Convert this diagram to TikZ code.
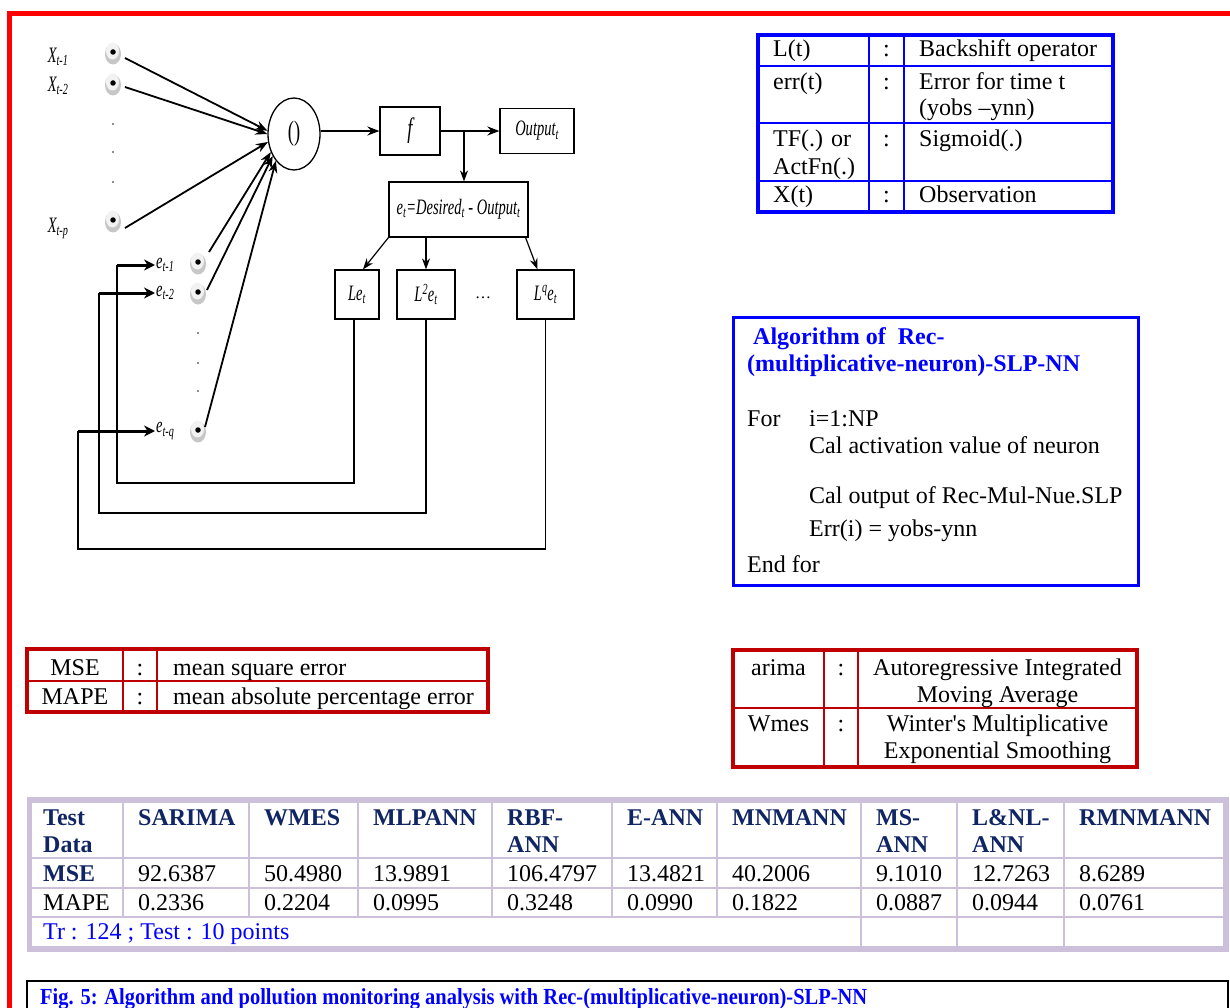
\documentclass[tikz,border=0pt]{standalone}
\usepackage{fontspec}
\setmainfont{Liberation Serif}
\usetikzlibrary{shapes.geometric,arrows.meta}
\definecolor{bordred}{RGB}{255,0,0}
\definecolor{tblblue}{RGB}{0,0,255}
\definecolor{dkred}{RGB}{192,0,0}
\definecolor{lav}{RGB}{204,192,218}
\definecolor{navy}{RGB}{16,37,99}
\definecolor{txtblue}{RGB}{0,0,255}
\newcommand\tfont{\fontsize{24}{27}\selectfont}
\newcommand\dfont{\fontsize{22}{24}\selectfont\itshape}
\newcommand\cnd[1]{\scalebox{0.66}[1]{#1}}
\newcommand\bead[3]{%
  \fill[black!22] (#2,#3+2) ellipse (8 and 10.5);
  \fill[black!5] (#2-0.5,#3-1) ellipse (6.5 and 8.5);
  \node[beaddot] (#1) at (#2,#3) {};}
\begin{document}
\begin{tikzpicture}[x=1pt,y=-1pt,
  txt/.style={font=\tfont, inner sep=0pt, anchor=base west},
  txtc/.style={font=\tfont, inner sep=0pt, anchor=base},
  dbox/.style={draw, line width=1.2pt, inner sep=0pt},
  thk/.style={line width=1.8pt, -{Stealth[length=12pt,width=9pt]}},
  arr/.style={line width=1.2pt, -{Stealth[length=11pt,width=8pt]}},
  fbl/.style={line width=1.1pt},
  fbarr/.style={line width=3pt, -{Stealth[length=11pt,width=11pt]}},
  beaddot/.style={circle, fill=black, inner sep=0pt, minimum size=5.5pt},
  dlab/.style={font=\dfont, inner sep=1pt},
  sdot/.style={fill=black!60},
]
\useasboundingbox (0,0) rectangle (1230,1008);
% outer red frame
\draw[bordred, line width=5pt] (9.5,1010) -- (9.5,14) -- (1232,14);

% ---------------- neuron diagram ----------------
\bead{x1}{113}{52}
\bead{x2}{113}{83}
\bead{xp}{113}{220}
\bead{e1}{198}{262}
\bead{e2}{198}{292}
\bead{eq}{198}{430}
\fill[sdot] (113,124) circle (1.1) (113,152) circle (1.1) (113,182) circle (1.1);
\fill[sdot] (198,333) circle (1.1) (198,363) circle (1.1) (198,391) circle (1.1);

\node[dlab] (lx1) at (58,57) {\cnd{X\textsubscript{t-1}}};
\node[dlab] (lx2) at (58,86) {\cnd{X\textsubscript{t-2}}};
\node[dlab] (lxp) at (58,228) {\cnd{X\textsubscript{t-p}}};
\node[dlab, anchor=west] (le1) at (155,265) {\cnd{e\textsubscript{t-1}}};
\node[dlab, anchor=west] (le2) at (155,293) {\cnd{e\textsubscript{t-2}}};
\node[dlab, anchor=west] (leq) at (155,431) {\cnd{e\textsubscript{t-q}}};

\node[ellipse, draw, line width=1.3pt, minimum width=52pt, minimum height=72pt, inner sep=0pt,
      font=\fontsize{28}{30}\selectfont] (n) at (294,134) {\cnd{()}};
\node[dbox, minimum width=60pt, minimum height=48pt, font=\fontsize{28}{30}\selectfont\itshape] (f) at (410,131) {\cnd{f}};
\node[dbox, minimum width=74pt, minimum height=45pt, font=\dfont] (out) at (537,131) {\cnd{Output\textsubscript{t}}};
\node[dbox, minimum width=139pt, minimum height=55pt, font=\dfont] (err) at (458.5,209.5)
   {\cnd{e\textsubscript{t}=Desired\textsubscript{t} - Output\textsubscript{t}}};
\node[dbox, minimum width=44pt, minimum height=49pt, font=\dfont] (le) at (357,294.5) {\cnd{Le\textsubscript{t}}};
\node[dbox, minimum width=58pt, minimum height=49pt, font=\dfont] (l2) at (426,294.5) {\cnd{L\textsuperscript{2}e\textsubscript{t}}};
\node[dbox, minimum width=57pt, minimum height=49pt, font=\dfont] (lq) at (545.5,294.5) {\cnd{L\textsuperscript{q}e\textsubscript{t}}};
\node[font=\fontsize{16}{18}\selectfont, inner sep=0pt] (ell) at (483,298) {\dots};

% inputs into the neuron
\draw[thk] ([shift={(12,6)}]x1.center) -- (n.173);
\draw[thk] ([shift={(12,4)}]x2.center) -- (n.180);
\draw[thk] ([shift={(12,8)}]xp.center) -- (n.197);
\draw[thk] ([shift={(11,-10)}]e1.center) -- (n.218);
\draw[thk] ([shift={(9,-2)}]e2.center) -- (n.226);
\draw[thk] ([shift={(7,-3)}]eq.center) -- (n.236);

% forward path
\draw[thk] (n.east |- f.west) -- (f.west);
\draw[thk] (f.east) -- (out.west);
\coordinate (br) at (464,131);
\draw[arr] (br) -- (br |- err.north);
\draw[arr] (err.south west) -- ([xshift=6pt]le.north);
\draw[arr] (l2.north |- err.south) -- (l2.north);
\draw[arr] ([xshift=-3pt]err.south east) -- ([xshift=-8pt]lq.north);

% feedback
\coordinate (c1) at (117,483);
\coordinate (c2) at (99,513);
\coordinate (c3) at (78,549);
\draw[fbl] ([xshift=-3pt]le.south) |- (c1) -- (c1 |- le1.west);
\draw[fbarr] (c1 |- le1.west) -- (le1.west);
\draw[fbl] (l2.south) |- (c2) -- (c2 |- le2.west);
\draw[fbarr] (c2 |- le2.west) -- (le2.west);
\draw[fbl] (lq.south) |- (c3) -- (c3 |- leq.west);
\draw[fbarr] (c3 |- leq.west) -- (leq.west);

% ---------------- legend table (blue) ----------------
\draw[tblblue, line width=3.3pt] (758,35) rectangle (1113,212);
\draw[tblblue, line width=2pt] (869,35) -- (869,212) (904,35) -- (904,212)
  (758,66) -- (1113,66) (758,123) -- (1113,123) (758,181) -- (1113,181);
\node[txt] (b11) at (773,57) {L(t)};
\node[txtc] (b12) at (886.5,57) {:};
\node[txt] (b13) at (919,57) {Backshift operator};
\node[txt] (b21) at (773,90) {err(t)};
\node[txtc] (b22) at (886.5,90) {:};
\node[txt] (b23) at (919,90) {Error for time t};
\node[txt] (b23b) at (919,116) {(yobs –ynn)};
\node[txt] (b31) at (773,147) {TF(.) or};
\node[txt] (b31b) at (773,175) {ActFn(.)};
\node[txtc] (b32) at (886.5,147) {:};
\node[txt] (b33) at (919,147) {Sigmoid(.)};
\node[txt] (b41) at (773,203) {X(t)};
\node[txtc] (b42) at (886.5,203) {:};
\node[txt] (b43) at (919,203) {Observation};

% ---------------- algorithm box ----------------
\draw[tblblue, line width=3pt] (733,317) rectangle (1138,585);
\node[txt, font=\tfont\bfseries, text=txtblue] (a1) at (753,344) {Algorithm of\ \ Rec-};
\node[txt, font=\tfont\bfseries, text=txtblue] (a2) at (747,371) {(multiplicative-neuron)-SLP-NN};
\node[txt] (a3) at (747,426) {For};
\node[txt] (a4) at (809,426) {i=1:NP};
\node[txt] (a5) at (809,453) {Cal activation value of neuron};
\node[txt] (a6) at (809,503) {Cal output of Rec-Mul-Nue.SLP};
\node[txt] (a7) at (809,536) {Err(i) = yobs-ynn};
\node[txt] (a8) at (747,572) {End for};

% ---------------- MSE / MAPE legend ----------------
\draw[dkred, line width=3.5pt] (27,649) rectangle (488,712);
\draw[dkred, line width=2pt] (123,649) -- (123,712) (157,649) -- (157,712) (27,681) -- (488,681);
\node[txtc] (m11) at (75,675) {MSE};
\node[txtc] (m12) at (140,675) {:};
\node[txt] (m13) at (173,675) {mean square error};
\node[txtc] (m21) at (75,704) {MAPE};
\node[txtc] (m22) at (140,704) {:};
\node[txt] (m23) at (173,704) {mean absolute percentage error};

% ---------------- arima / Wmes legend ----------------
\draw[dkred, line width=3.5pt] (733,650) rectangle (1137,767);
\draw[dkred, line width=2pt] (824,650) -- (824,767) (858,650) -- (858,767) (733,708) -- (1137,708);
\node[txtc] (r11) at (778.5,675) {arima};
\node[txtc] (r12) at (841,675) {:};
\node[txtc] (r13) at (997.5,675) {Autoregressive Integrated};
\node[txtc] (r13b) at (997.5,702) {Moving Average};
\node[txtc] (r21) at (778.5,731) {Wmes};
\node[txtc] (r22) at (841,731) {:};
\node[txtc] (r23) at (997.5,731) {Winter\textquotesingle s Multiplicative};
\node[txtc] (r23b) at (997.5,758) {Exponential Smoothing};

% ---------------- results table ----------------
\fill[lav] (27,797) rectangle (1229,952);
\fill[white] (32,803) rectangle (1223,946);
\draw[lav, line width=2.5pt] (32,858) -- (1223,858) (32,888) -- (1223,888) (32,917) -- (1223,917);
\foreach \cx in {123,249,358,492,612,717} \draw[lav, line width=2.5pt] (\cx,803) -- (\cx,917);
\foreach \cx in {861,957,1064} \draw[lav, line width=2.5pt] (\cx,803) -- (\cx,946);
\begin{scope}[every node/.style={txt, font=\tfont\bfseries, text=navy}]
\node (h1) at (43,825) {Test};
\node (h1b) at (43,852) {Data};
\node (h2) at (138,825) {SARIMA};
\node (h3) at (264,825) {WMES};
\node (h4) at (373,825) {MLPANN};
\node (h5) at (507,825) {RBF-};
\node (h5b) at (507,852) {ANN};
\node (h6) at (627,825) {E-ANN};
\node (h7) at (732,825) {MNMANN};
\node (h8) at (876,825) {MS-};
\node (h8b) at (876,852) {ANN};
\node (h9) at (972,825) {L\&NL-};
\node (h9b) at (972,852) {ANN};
\node (h10) at (1079,825) {RMNMANN};
\node (s1) at (43,881) {MSE};
\end{scope}
\node[txt] (s2) at (138,881) {92.6387};
\node[txt] (s3) at (264,881) {50.4980};
\node[txt] (s4) at (373,881) {13.9891};
\node[txt] (s5) at (507,881) {106.4797};
\node[txt] (s6) at (627,881) {13.4821};
\node[txt] (s7) at (732,881) {40.2006};
\node[txt] (s8) at (876,881) {9.1010};
\node[txt] (s9) at (972,881) {12.7263};
\node[txt] (s10) at (1079,881) {8.6289};
\node[txt] (p1) at (43,910) {MAPE};
\node[txt] (p2) at (138,910) {0.2336};
\node[txt] (p3) at (264,910) {0.2204};
\node[txt] (p4) at (373,910) {0.0995};
\node[txt] (p5) at (507,910) {0.3248};
\node[txt] (p6) at (627,910) {0.0990};
\node[txt] (p7) at (732,910) {0.1822};
\node[txt] (p8) at (876,910) {0.0887};
\node[txt] (p9) at (972,910) {0.0944};
\node[txt] (p10) at (1079,910) {0.0761};
\node[txt, text=txtblue] (tr) at (43,939) {Tr : 124 ; Test : 10 points};

% ---------------- caption ----------------
\draw[black, line width=2pt] (27,1015) -- (27,981) -- (1228,981) -- (1228,1015);
\node[txt, font=\fontsize{23}{26}\selectfont\bfseries, text=txtblue] (cap) at (40,1004)
  {\scalebox{0.89}[1]{Fig. 5: Algorithm and pollution monitoring analysis with Rec-(multiplicative-neuron)-SLP-NN}};
\end{tikzpicture}
\end{document}
